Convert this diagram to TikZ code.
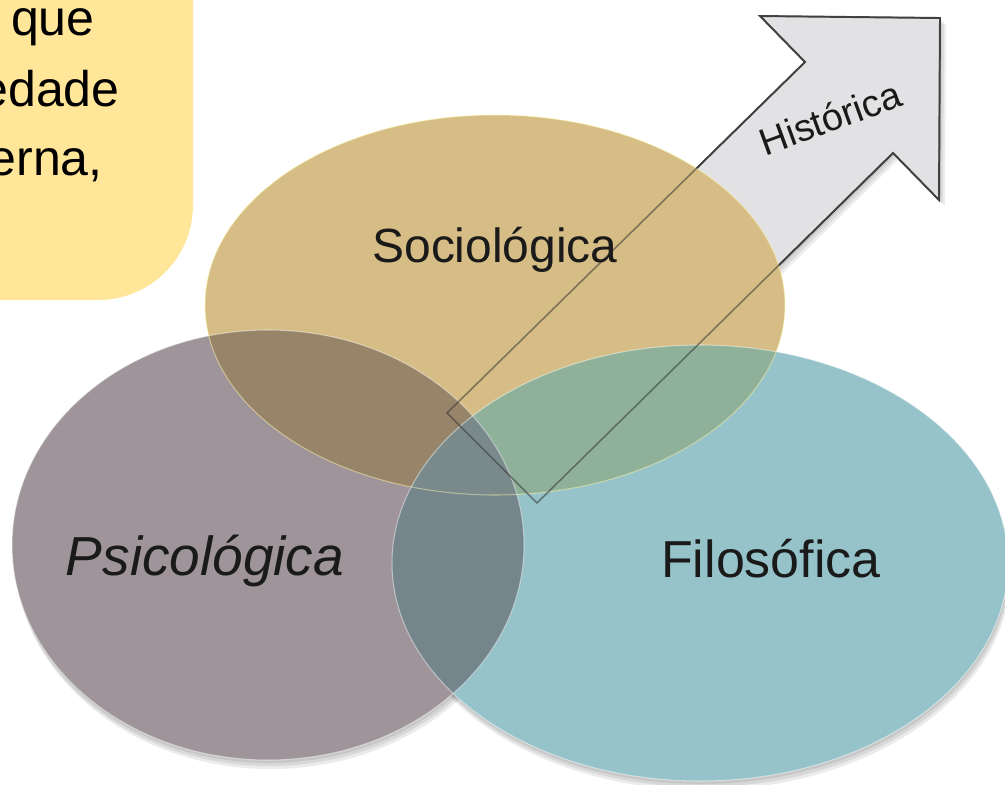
\documentclass[tikz,border=0pt]{standalone}
\usepackage{fontspec}
\setmainfont{Liberation Sans}
\definecolor{notefill}{HTML}{FFE699}
\definecolor{soccol}{HTML}{D6BD85}
\definecolor{psicol}{HTML}{9E9499}
\definecolor{filcol}{HTML}{95C3C9}
\definecolor{socpsi}{HTML}{988569}
\definecolor{psifil}{HTML}{74868C}
\definecolor{socfil}{HTML}{8FB19A}
\definecolor{allthree}{HTML}{7A8A8A}
\definecolor{arrowfill}{HTML}{E2E2E4}
\definecolor{arrowline}{HTML}{4D4D4D}
\definecolor{inkcol}{HTML}{1A1A1A}
\begin{document}
\begin{tikzpicture}[x=0.02cm,y=-0.02cm,
  lbl/.style={inner sep=0pt,text=inkcol},
  notetext/.style={lbl,anchor=base east,text=black,font=\fontsize{28.5}{34}\selectfont},
  rim/.style={draw=white,draw opacity=0.45,line width=0.6pt},
  dropshade/.style={fill=black,fill opacity=0.08}]
\useasboundingbox (0,0) rectangle (1005,785);
\clip (0,0) rectangle (1005,785);
\fill[white] (0,0) rectangle (1005,785);

% note box in the upper left corner
\fill[notefill] (-20,-20) -- (193,-20) -- (193,205)
  .. controls (193,257.5) and (150.5,300) .. (98,300) -- (-20,300) -- cycle;
\node[notetext] (n1) at (95,35) {que};
\node[notetext] (n2) at (120,106) {edade};
\node[notetext] (n3) at (103,175) {erna,};

% soft shadows below the discs
\foreach \d in {3,6,9}{
  \fill[dropshade] (700+\d*0.3,563+\d) ellipse [x radius=308, y radius=218];
  \fill[dropshade] (268+\d*0.3,545+\d) ellipse [x radius=256, y radius=215];
}

% arrow: shadow, outline and fill (lies below the discs)
\foreach \d in {2,4,6}{
  \fill[black,fill opacity=0.07,shift={(\d,\d)}]
    (447,413) -- (805,62) -- (760,16) -- (940,18) -- (939,200) -- (893,153) -- (537,503) -- cycle;
}
\filldraw[fill=arrowfill,draw=arrowline,line width=1.1pt,line join=miter]
  (447,413) -- (805,62) -- (760,16) -- (940,18) -- (939,200) -- (893,153) -- (537,503) -- cycle;

% three discs
\fill[filcol] (700,563) ellipse [x radius=308, y radius=218];
\fill[psicol] (268,545) ellipse [x radius=256, y radius=215];
\fill[soccol] (495,305) ellipse [x radius=290, y radius=190];

% overlaps
\begin{scope}
  \clip (495,305) ellipse [x radius=290, y radius=190];
  \fill[socpsi] (268,545) ellipse [x radius=256, y radius=215];
  \fill[socfil] (700,563) ellipse [x radius=308, y radius=218];
\end{scope}
\begin{scope}
  \clip (268,545) ellipse [x radius=256, y radius=215];
  \fill[psifil] (700,563) ellipse [x radius=308, y radius=218];
  \clip (700,563) ellipse [x radius=308, y radius=218];
  \fill[allthree] (495,305) ellipse [x radius=290, y radius=190];
\end{scope}

% light rims
\draw[rim] (700,563) ellipse [x radius=308, y radius=218];
\draw[rim] (268,545) ellipse [x radius=256, y radius=215];
\draw[rim,draw=yellow!30] (495,305) ellipse [x radius=290, y radius=190];

% arrow outline seen through the discs
\draw[draw=arrowline!70!black,draw opacity=0.55,line width=0.9pt,line join=miter]
  (447,413) -- (805,62) -- (760,16) -- (940,18) -- (939,200) -- (893,153) -- (537,503) -- cycle;

% labels
\node[lbl,anchor=base,font=\fontsize{27.3}{32}\selectfont] (soc) at (495,262) {Sociológica};
\node[lbl,anchor=base,font=\itshape\fontsize{31.3}{36}\selectfont] (psi) at (205,575) {Psicológica};
\node[lbl,anchor=base,font=\fontsize{29.6}{34}\selectfont] (fil) at (771,577) {Filosófica};
\node[lbl,rotate=20,font=\fontsize{21.6}{26}\selectfont] (his) at (830,118) {Histórica};
\end{tikzpicture}
\end{document}
